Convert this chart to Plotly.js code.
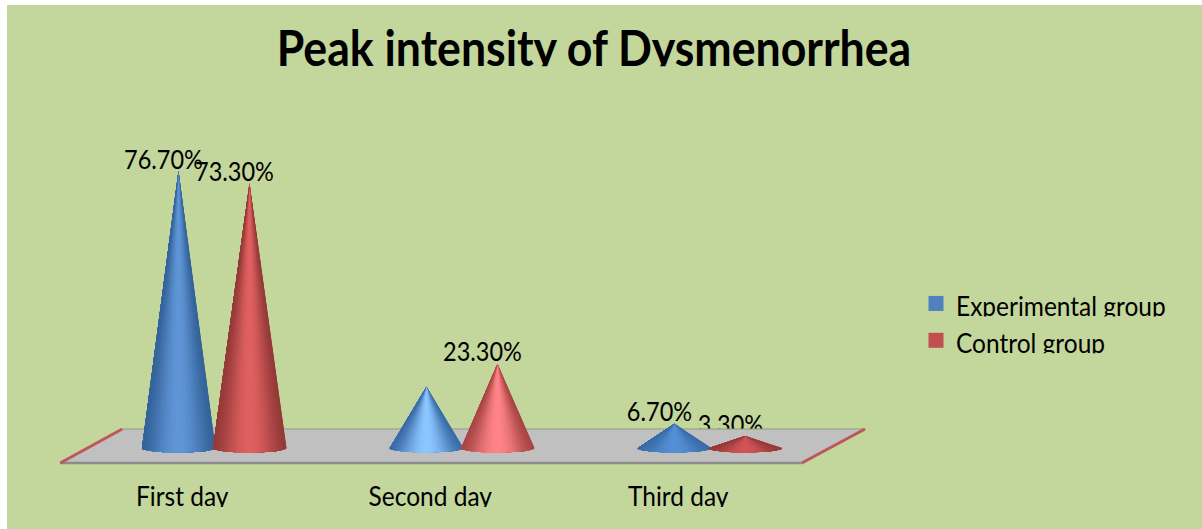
<!DOCTYPE html>
<html><head><meta charset="utf-8">
<script src="https://cdn.plot.ly/plotly-3.0.1.min.js"></script>
<style>html,body{margin:0;padding:0;background:#fff}#chart{position:absolute;left:0;top:0;width:1202px;height:529px}
#chart .xtick text, #chart text.legendtext{transform-box:fill-box;transform-origin:50% 0;scale:1 1.12;clip-path:inset(0 0 17% 0)}
#chart text.gtitle{transform-box:fill-box;transform-origin:50% 0;scale:.97 1.07;clip-path:inset(0 0 18% 0)}
#chart .textpoint text{transform-box:fill-box;transform-origin:50% 0;scale:1 1.15}
</style>
</head><body><div id="chart"></div>
<script>
const titleText = 'Peak intensity of Dysmenorrhea';
const categories = ['First day', 'Second day', 'Third day'];
const seriesNames = ['Experimental group', 'Control group'];
const experimental = [76.7, 17, 6.7];
const control = [73.3, 23.3, 3.3];
const experimentalLabels = ['76.70%', '', '6.70%'];
const controlLabels = ['73.30%', '23.30%', '3.30%'];
const seriesColors = ['#4F81BD', '#C0504D'];
const experimentalShades = [['#35639a', '#5f95d6'], ['#3a6ca8', '#8cc6ff'], ['#3a6ca8', '#5590d6']];
const controlShades = [['#943a38', '#e06060'], ['#a84644', '#ff8488'], ['#983a3a', '#cf5555']];

const FONT = 'Lato, sans-serif';
const X_PER_PX = 1 / 248, Y_PER_PX = 1 / 3.61;
const SLATS = 40;

function hex(c){return [1,3,5].map(i=>parseInt(c.substr(i,2),16));}
function mix(a,b,t){const A=hex(a),B=hex(b);return 'rgb('+A.map((v,i)=>Math.round(v+(B[i]-v)*t)).join(',')+')';}

const traces = [];
function labelTrace(idx, vals, labels){
  traces.push({type:'scatter',mode:'text',x:categories.map((_,i)=>i+idx-15*X_PER_PX),y:vals,text:labels,
    textposition:'top center',textfont:{family:FONT,size:23.5,color:'#000'},showlegend:false,hoverinfo:'skip',cliponaxis:false});
}
const off = 35.5 * X_PER_PX;
labelTrace(-off, experimental, experimentalLabels);
labelTrace(off, control, controlLabels);

// floor
const fx=[-0.62,2.37,2.625,-0.37], fy=[-4.15,-4.15,5.26,5.26];
traces.push({type:'scatter',mode:'lines',x:[...fx,fx[0]],y:[...fy,fy[0]],fill:'toself',fillcolor:'#c0c0c0',line:{width:0},showlegend:false,hoverinfo:'skip'});
traces.push({type:'scatter',mode:'lines',x:[fx[3],fx[2]],y:[fy[3],fy[2]],line:{width:1,color:'#8f9a78'},showlegend:false,hoverinfo:'skip'});
traces.push({type:'scatter',mode:'lines',x:[fx[0],fx[1]],y:[fy[0],fy[1]],line:{width:2.5,color:'#8c8c8c'},showlegend:false,hoverinfo:'skip'});
traces.push({type:'scatter',mode:'lines',x:[fx[0],fx[3]],y:[fy[0],fy[3]],line:{width:3,color:'#c0565a'},showlegend:false,hoverinfo:'skip'});
traces.push({type:'scatter',mode:'lines',x:[fx[1],fx[2]],y:[fy[1],fy[2]],line:{width:3,color:'#c0565a'},showlegend:false,hoverinfo:'skip'});

// cones, painted as shrinking wedges from the right so that the shading follows the surface
function cone(cx, value, shades){
  const rx = 37 * X_PER_PX, ry = 4.5 * Y_PER_PX;
  for(let s=SLATS;s>=1;s--){
    const xs=[cx], ys=[value];
    for(let k=0;k<=s;k++){
      const a = Math.PI - Math.PI*k/SLATS;
      xs.push(cx+rx*Math.cos(a)); ys.push(-ry*Math.sin(a));
    }
    xs.push(cx); ys.push(value);
    const u=(s-0.5)/SLATS;
    const pos=(Math.cos(Math.PI-Math.PI*u)+1)/2;
    const t=Math.pow(Math.sin(Math.PI*pos),1.6);
    traces.push({type:'scatter',mode:'lines',x:xs,y:ys,fill:'toself',fillcolor:mix(shades[0],shades[1],t),line:{width:0},showlegend:false,hoverinfo:'skip'});
  }
}
categories.forEach((_,i)=>{
  cone(i-off, experimental[i], experimentalShades[i]);
  cone(i+off, control[i], controlShades[i]);
});

// legend entries
seriesNames.forEach((n,i)=>traces.push({type:'scatter',mode:'markers',x:[null],y:[null],name:n,legendgroup:n,
  marker:{symbol:'square',size:15,color:seriesColors[i]},showlegend:true}));

const PLOT_H = 472;
const bgShape={type:'rect',xref:'paper',yref:'paper',x0:7/1202,x1:1,y0:-57/PLOT_H,y1:(PLOT_H-5)/PLOT_H,fillcolor:'#C3D69B',line:{width:0},layer:'below'};
const layout={
  width:1202,height:529,paper_bgcolor:'#fff',plot_bgcolor:'rgba(0,0,0,0)',
  margin:{l:0,r:0,t:0,b:57},
  title:{text:titleText,font:{family:FONT,size:46,color:'#000',weight:700},x:594/1202,xanchor:'center',y:1-47/529,yanchor:'middle'},
  xaxis:{type:'linear',range:[-214*X_PER_PX,(1202-214)*X_PER_PX],tickmode:'array',tickvals:categories.map((_,i)=>i-0.128),ticktext:categories,
    showgrid:false,zeroline:false,showline:false,ticks:'outside',ticklen:1,tickcolor:'rgba(0,0,0,0)',tickfont:{family:FONT,size:24.5,color:'#000'},fixedrange:true},
  yaxis:{range:[-24*Y_PER_PX,448*Y_PER_PX],visible:false,fixedrange:true},
  legend:{x:916/1202,y:1-281/PLOT_H,xanchor:'left',yanchor:'top',bgcolor:'rgba(0,0,0,0)',font:{family:FONT,size:24.5,color:'#000'},tracegroupgap:2,itemclick:false,itemdoubleclick:false},
  shapes:[bgShape],hovermode:false
};
Plotly.newPlot('chart',traces,layout,{displayModeBar:false,staticPlot:true});
</script></body></html>
